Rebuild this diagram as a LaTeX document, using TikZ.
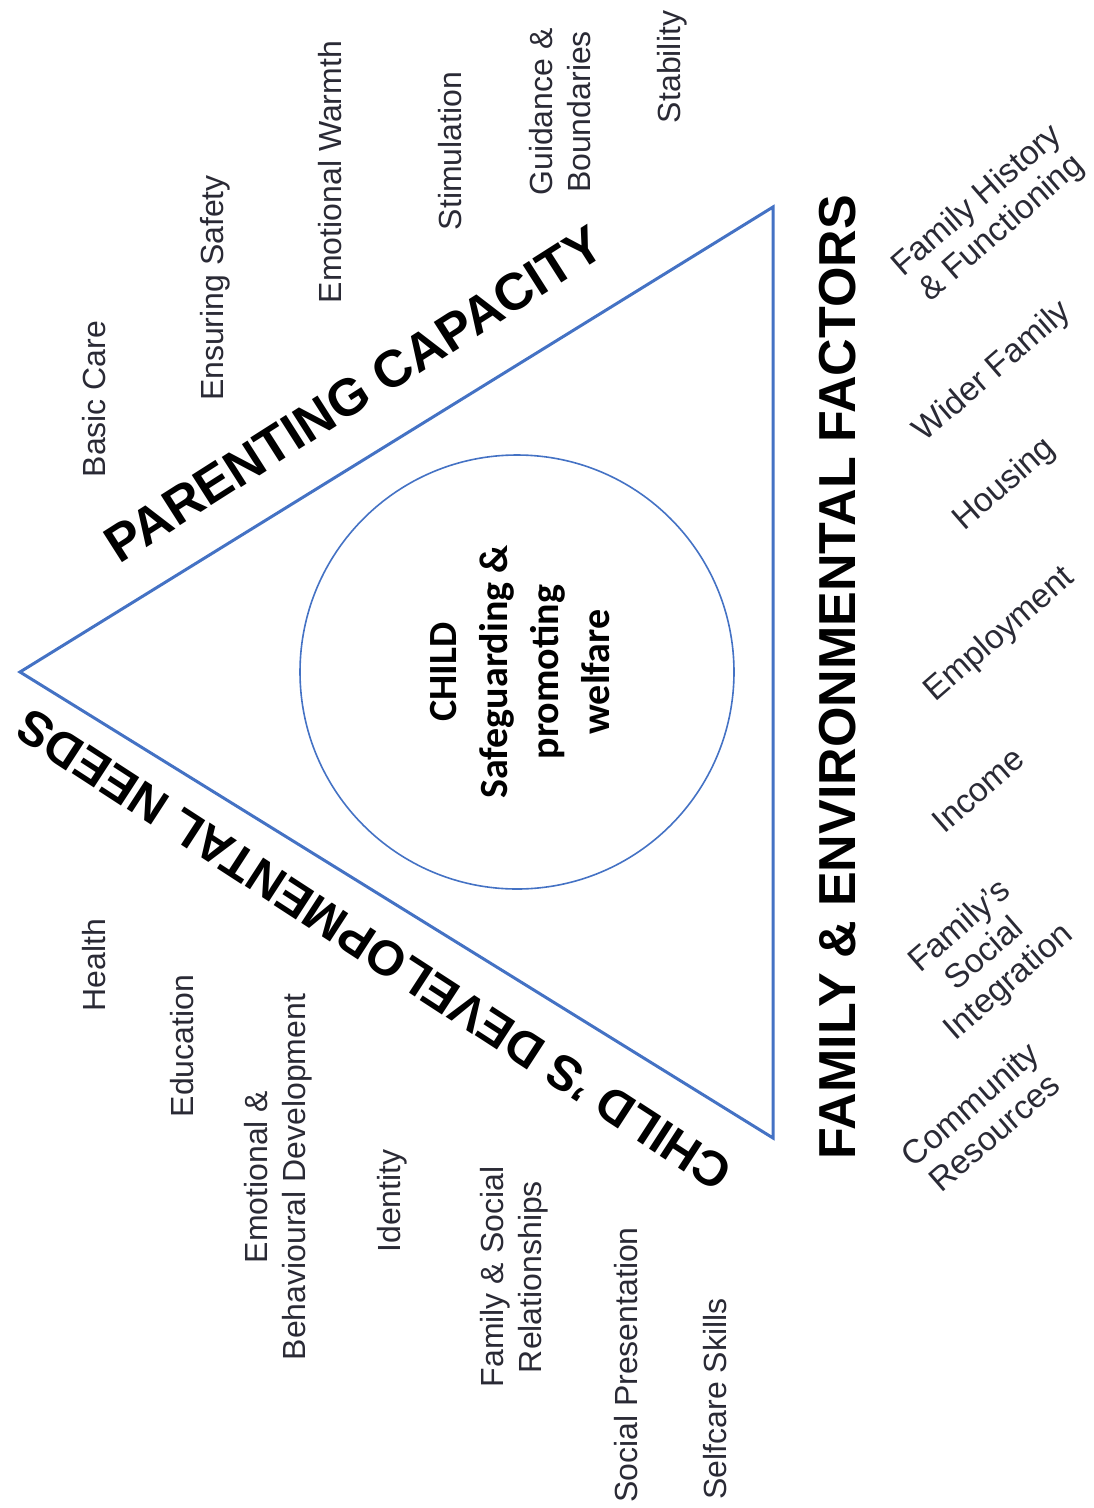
\documentclass[tikz,border=0pt]{standalone}
\usepackage{fontspec}
\setmainfont{Liberation Sans}
\newfontfamily\calib{Carlito}
\begin{document}
\begin{tikzpicture}[x=1pt,y=-1pt,
  edge/.style={draw=triblue,line width=3pt,line join=miter},
  item/.style={font=\fontsize{32}{38}\selectfont,text=itemgray,align=center,inner sep=0pt},
  vitem/.style={item,rotate=90},
  ditem/.style={item,font=\fontsize{33.5}{37}\selectfont,rotate=41},
  side/.style={font=\fontsize{52}{60}\selectfont\bfseries,inner sep=0pt}]
\definecolor{triblue}{HTML}{4472C4}
\definecolor{itemgray}{HTML}{2A2A35}
\useasboundingbox (0,0) rectangle (1094,1508);
% triangle and inner circle
\coordinate (apex) at (20,672);
\coordinate (tr) at (773,207);
\coordinate (br) at (773,1138);
\draw[edge] (apex) -- (tr) -- (br) -- cycle;
\node[circle,draw=triblue,line width=1.6pt,minimum size=434pt,inner sep=0pt] (core) at (517,672) {};
\node[font=\calib\bfseries\fontsize{40}{51}\selectfont,align=center,rotate=90] (child) at (520,672)
  {CHILD\\Safeguarding \&\\promoting\\welfare};
% side headings
\node[side,rotate=32.5] (pc) at (354,394) {PARENTING CAPACITY};
\node[side,font=\fontsize{49}{58}\selectfont\bfseries,rotate=147] (cdn) at (374,950) {CHILD 'S DEVELOPMENTAL NEEDS};
\node[side,rotate=90] (fef) at (838,677) {FAMILY \& ENVIRONMENTAL FACTORS};
% parenting capacity items
\node[vitem] (p1) at (94,399) {Basic Care};
\node[vitem] (p2) at (215,288) {Ensuring Safety};
\node[vitem] (p3) at (330,172) {Emotional Warmth};
\node[vitem] (p4) at (450,151) {Stimulation};
\node[vitem] (p5) at (560,112) {Guidance \&\\Boundaries};
\node[vitem] (p6) at (672,67) {Stability};
% developmental needs items
\node[vitem] (d1) at (94,965) {Health};
\node[vitem] (d2) at (182,1046) {Education};
\node[vitem] (d3) at (278,1177) {Emotional \&\\Behavioural Development};
\node[vitem] (d4) at (392,1201) {Identity};
\node[vitem] (d5) at (514,1277) {Family \& Social\\Relationships};
\node[vitem] (d6) at (626,1365) {Social Presentation};
\node[vitem] (d7) at (715,1399) {Selfcare Skills};
% family and environmental items
\node[ditem] (f1) at (990,215) {Family History\\\& Functioning};
\node[ditem] (f2) at (993,372) {Wider Family};
\node[ditem] (f3) at (1005,485) {Housing};
\node[ditem] (f4) at (1000,635) {Employment};
\node[ditem] (f5) at (978,790) {Income};
\node[ditem] (f6) at (985,955) {Family's\\Social\\Integration};
\node[ditem] (f7) at (982,1118) {Community\\Resources};
\end{tikzpicture}
\end{document}
